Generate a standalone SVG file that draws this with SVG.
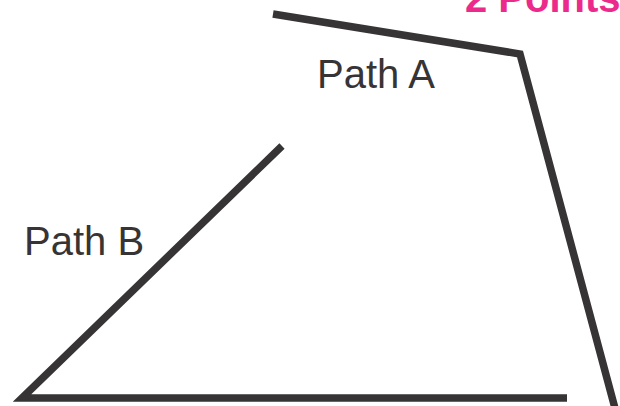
<svg xmlns="http://www.w3.org/2000/svg" width="620" height="406" viewBox="0 0 620 406">
<style>
.path{fill:none;stroke:#363435;stroke-width:7.5;stroke-linejoin:miter;stroke-miterlimit:10}
.lbl{font-family:"Liberation Sans",Arial,sans-serif;font-size:40px;fill:#363435}
.title{font-family:"Liberation Sans",Arial,sans-serif;font-size:40px;font-weight:bold;fill:#ec2a8c}
</style>
<rect width="620" height="406" fill="#ffffff"/>
<text class="title" x="465" y="12">2 Points</text>
<g id="connectors">
<polyline id="pathA" class="path" points="273,14 520,54 616,412"/>
<polyline id="pathB" class="path" points="282,146 22,398 567,398"/>
</g>
<g id="labelA"><text class="lbl" x="317" y="88">Path A</text></g>
<g id="labelB"><text class="lbl" x="24" y="255">Path B</text></g>
</svg>
